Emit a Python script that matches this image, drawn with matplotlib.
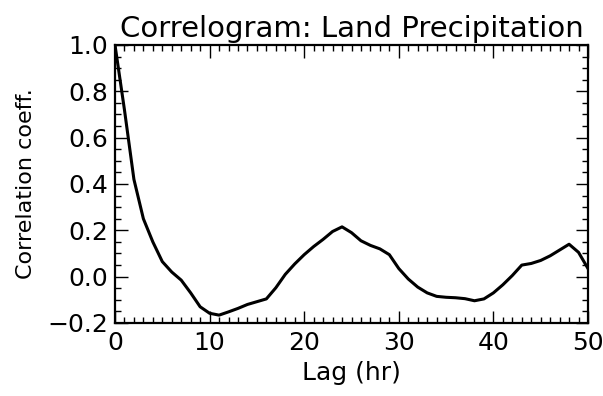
import matplotlib
matplotlib.use("Agg")
import matplotlib.pyplot as plt
from matplotlib.ticker import MultipleLocator, FuncFormatter

# hourly lags and correlation values
lag = list(range(0, 51))
corr = [1.00, 0.72, 0.42, 0.25, 0.15, 0.065, 0.02, -0.015, -0.07, -0.13,
        -0.158, -0.166, -0.152, -0.137, -0.12, -0.108, -0.096, -0.048, 0.01, 0.055,
        0.095, 0.13, 0.161, 0.195, 0.215, 0.19, 0.155, 0.135, 0.12, 0.095,
        0.035, -0.01, -0.045, -0.07, -0.085, -0.089, -0.091, -0.095, -0.104, -0.096,
        -0.07, -0.035, 0.005, 0.05, 0.057, 0.07, 0.09, 0.115, 0.14, 0.105,
        0.035]

plt.rcParams['font.family'] = ['DejaVu Sans']

fig = plt.figure(figsize=(6.03, 3.96), dpi=100)
ax = fig.add_axes([115 / 603, 1 - 323 / 396, 473 / 603, 278 / 396])

ax.plot(lag, corr, color='black', lw=2.2)

ax.set_xlim(0, 50)
ax.set_ylim(-0.2, 1.0)
ax.xaxis.set_major_locator(MultipleLocator(10))
ax.xaxis.set_minor_locator(MultipleLocator(1))
ax.yaxis.set_major_locator(MultipleLocator(0.2))
ax.yaxis.set_minor_locator(MultipleLocator(0.05))
ax.yaxis.set_major_formatter(FuncFormatter(lambda v, p: f'{v:.1f}'.replace('-', '\u2212')))

ax.tick_params(which='both', direction='in', top=True, right=True,
               labelsize=18, width=1.0)
ax.tick_params(axis='x', pad=6)
ax.tick_params(axis='y', pad=5)
ax.tick_params(which='major', length=9)
ax.tick_params(which='minor', length=4)
for s in ax.spines.values():
    s.set_linewidth(1.6)

ax.set_title('Correlogram: Land Precipitation', fontsize=21, pad=6)
ax.set_xlabel('Lag (hr)', fontsize=18, labelpad=4)
ax.set_ylabel('Correlation coeff.', fontsize=16, labelpad=8)

fig.savefig('out.png', dpi=100)
